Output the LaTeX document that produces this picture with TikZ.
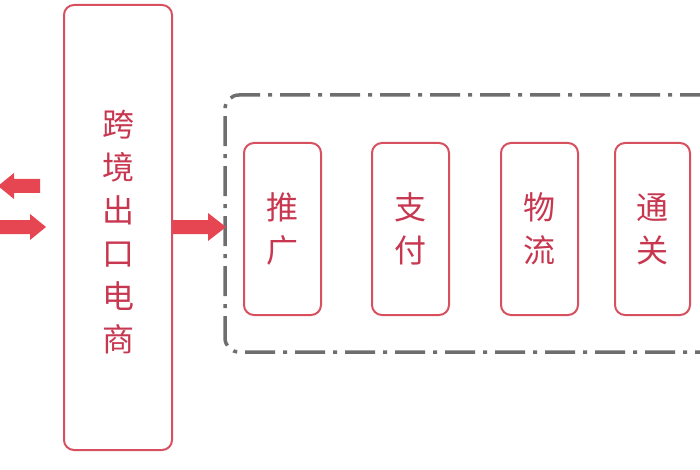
\documentclass[tikz,border=0pt]{standalone}
\usepackage{fontspec}
\newfontfamily\cjk{Noto Sans CJK SC}
\definecolor{bd}{RGB}{214,80,96}
\definecolor{tx}{RGB}{200,55,80}
\definecolor{ar}{RGB}{230,70,82}
\definecolor{gr}{RGB}{110,110,110}
\begin{document}
\begin{tikzpicture}[x=1pt,y=-1pt,
  box/.style={draw=bd,line width=2pt,rounded corners=10pt},
  lbl/.style={text=tx,font=\cjk\fontsize{32}{43}\selectfont,align=center},
  arr/.style={fill=ar,draw=none}]
\useasboundingbox (0,0) rectangle (700,470);
\draw[box] (64,5) rectangle (172,450);
\node[lbl,text width=40pt] (m) at (118,232) {跨\\境\\出\\口\\电\\商};
\draw[gr,line width=3.5pt,rounded corners=14pt,dash pattern=on 30pt off 8pt on 4pt off 8pt] (710,95) -- (225,95) -- (225,352) -- (710,352);
\draw[box] (244,143) rectangle (321,315);
\node[lbl] (a) at (282.5,229) {推\\广};
\draw[box] (372,143) rectangle (449,315);
\node[lbl] (b) at (410.5,229) {支\\付};
\draw[box] (501,143) rectangle (578,315);
\node[lbl] (c) at (539.5,229) {物\\流};
\draw[box] (615,143) rectangle (690,315);
\node[lbl] (d) at (652.5,229) {通\\关};
\fill[arr] (-2,186) -- (14,173) -- (14,179) -- (40,179) -- (40,193) -- (14,193) -- (14,199) -- cycle;
\fill[arr] (46,227) -- (30,214) -- (30,220) -- (0,220) -- (0,234) -- (30,234) -- (30,240) -- cycle;
\fill[arr] (226,227) -- (208,213) -- (208,220) -- (173,220) -- (173,234) -- (208,234) -- (208,241) -- cycle;
\end{tikzpicture}
\end{document}
